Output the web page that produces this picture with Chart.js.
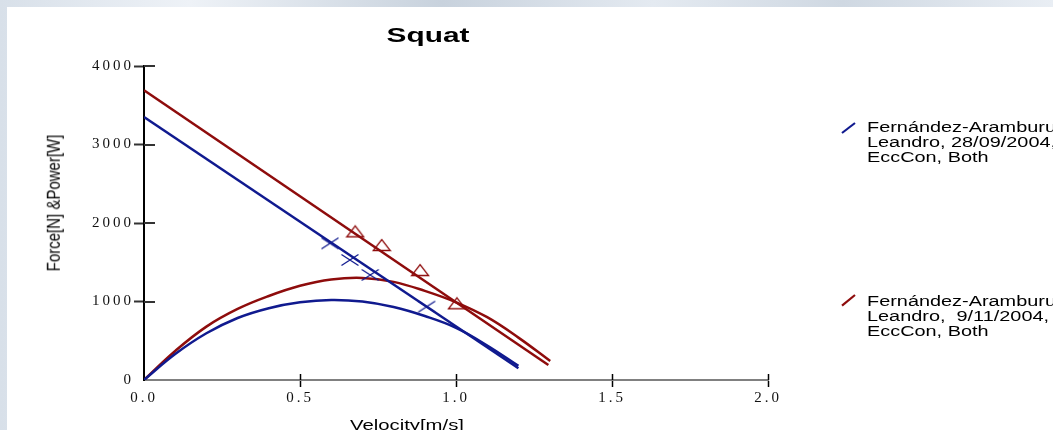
<!DOCTYPE html>
<html><head><meta charset="utf-8">
<script src="https://cdn.jsdelivr.net/npm/chart.js@4/dist/chart.umd.min.js"></script>
<style>
html,body{margin:0;padding:0;width:1053px;height:430px;overflow:hidden;}
body{position:relative;font-family:"Liberation Sans",Arial,sans-serif;
 background:linear-gradient(90deg,#d8e0e9 0%,#eef2f7 18%,#c8d2dd 42%,#e4eaf1 62%,#cfd8e2 80%,#e9eef4 100%);}
#panel{position:absolute;left:7px;top:7px;right:0;bottom:0;background:#fff;}
canvas{position:absolute;left:0;top:0;}
.t{position:absolute;white-space:pre;color:#000;}
#title{left:428px;top:24px;font-weight:bold;font-size:21px;line-height:21px;transform:translateX(-50%) scaleX(1.42);}
#xtitle{left:407px;top:417.5px;font-size:14px;line-height:14px;transform:translateX(-50%) scaleX(1.45);}
#ytitle{left:53px;top:203px;font-size:15px;line-height:15px;transform:translate(-50%,-50%) rotate(-90deg) scaleY(1.2);}
.leg{left:867px;font-size:14px;line-height:15px;transform-origin:0 0;transform:scaleX(1.42);}
svg{position:absolute;left:0;top:0;}
</style></head><body>
<div id="panel"></div>
<canvas id="c" width="1053" height="430"></canvas>
<div id="title" class="t"></div>
<div id="xtitle" class="t"></div>
<div id="ytitle" class="t"></div>
<div id="leg1" class="t leg" style="top:120.3px"></div>
<div id="leg2" class="t leg" style="top:294.3px"></div>
<svg width="1053" height="430">
 <line id="sw1" x1="842" y1="133" x2="855" y2="123" stroke-width="2.2"/>
 <line id="sw2" x1="842" y1="305.7" x2="855" y2="295" stroke-width="2.2"/>
</svg>
<script>
// ---- data ----
const chartTitle = "Squat";
const xAxisTitle = "Velocity[m/s]";
const yAxisTitle = "Force[N] &Power[W]";
const xTickLabels = ["0.0","0.5","1.0","1.5","2.0"];
const yTickLabels = ["0","1000","2000","3000","4000"];

const legend1Lines = ["Fernández-Aramburu,","Leandro, 28/09/2004,","EccCon, Both"];
const legend2Lines = ["Fernández-Aramburu,","Leandro,  9/11/2004,","EccCon, Both"];

// session 1 (blue)
const blueForceV = [0, 1.2];
const blueForce  = [3350, 150];
const bluePowerV = [0,0.1,0.2,0.3,0.4,0.5,0.6,0.7,0.8,0.9,1.0,1.1,1.2];
const bluePower  = [0,330,595,790,915,990,1020,1000,930,815,665,440,180];
const blueRepV   = [0.596,0.660,0.725,0.906];
const blueRepF   = [1741,1529,1338,934];

// session 2 (red)
const redForceV = [0, 1.296];
const redForce  = [3690, 190];
const redPowerV = [0,0.1,0.2,0.3,0.4,0.5,0.6,0.7,0.8,0.9,1.0,1.1,1.2,1.302];
const redPower  = [0,370,680,905,1070,1200,1280,1300,1250,1135,990,800,540,242];
const redRepV   = [0.677,0.762,0.885,1.003];
const redRepF   = [1894,1720,1401,977];

const BLUE = "#101a8f";
const RED  = "#8e0c0c";

// ---- text ----
document.getElementById('title').textContent = chartTitle;
document.getElementById('xtitle').textContent = xAxisTitle;
document.getElementById('ytitle').textContent = yAxisTitle;
document.getElementById('leg1').textContent = legend1Lines.join("\n");
document.getElementById('leg2').textContent = legend2Lines.join("\n");
document.getElementById('sw1').setAttribute('stroke', BLUE);
document.getElementById('sw2').setAttribute('stroke', RED);

// ---- marker images ----
function crossImg(color){
  const c=document.createElement('canvas');c.width=20;c.height=14;
  const g=c.getContext('2d');g.strokeStyle=color;g.lineWidth=1.3;
  g.beginPath();g.moveTo(1.5,1.5);g.lineTo(18.5,12.5);g.moveTo(1.5,12.5);g.lineTo(18.5,1.5);g.stroke();
  return c;
}
function triImg(color){
  const c=document.createElement('canvas');c.width=20;c.height=14;
  const g=c.getContext('2d');g.strokeStyle=color;g.lineWidth=1.3;
  g.beginPath();g.moveTo(1.5,12.5);g.lineTo(18.5,12.5);g.lineTo(10,1.5);g.closePath();g.stroke();
  return c;
}
const pts = (xs, ys) => xs.map((x,i)=>({x, y: ys[i]}));

const lineDs = (data,color) => ({data, borderColor:color, borderWidth:2.5, pointRadius:0, tension:0, fill:false});
const curveDs = (data,color) => ({data, borderColor:color, borderWidth:2.5, pointRadius:0, tension:0.4, fill:false});
const markDs = (data,img) => ({data, showLine:false, pointStyle:img, pointRadius:9, borderWidth:0});

const axisDecor = {
  id:'axisDecor',
  beforeDraw(chart){ chart.ctx.letterSpacing='3px'; },
  beforeDatasetsDraw(chart){
    const ctx=chart.ctx; ctx.letterSpacing='0px';
    const {left,bottom}=chart.chartArea;
    const xs=chart.scales.x, ys=chart.scales.y;
    ctx.save();
    ctx.strokeStyle='#333'; ctx.lineWidth=2;
    ys.ticks.forEach(t=>{ if(t.value===0) return; const y=Math.round(ys.getPixelForValue(t.value));
      ctx.beginPath(); ctx.moveTo(left,y); ctx.lineTo(left+11,y); ctx.stroke(); });
    ctx.strokeStyle='#000'; ctx.lineWidth=1.5;
    xs.ticks.forEach(t=>{ if(t.value===0) return; const x=Math.round(xs.getPixelForValue(t.value))+0.5;
      ctx.beginPath(); ctx.moveTo(x,bottom); ctx.lineTo(x,bottom-6); ctx.stroke(); });
    ctx.restore();
  },
  afterDraw(chart){ chart.ctx.letterSpacing='0px'; }
};

new Chart(document.getElementById('c'), {
  type:'line',
  data:{datasets:[
    lineDs(pts(blueForceV,blueForce),BLUE),
    curveDs(pts(bluePowerV,bluePower),BLUE),
    markDs(pts(blueRepV,blueRepF),crossImg(BLUE)),
    lineDs(pts(redForceV,redForce),RED),
    curveDs(pts(redPowerV,redPower),RED),
    markDs(pts(redRepV,redRepF),triImg(RED))
  ]},
  options:{
    responsive:false, devicePixelRatio:1, animation:false,
    layout:{padding:{left:0,top:66,right:285,bottom:0}},
    plugins:{legend:{display:false},tooltip:{enabled:false},title:{display:false}},
    scales:{
      x:{type:'linear',min:0,max:2,
        afterFit:s=>{s.height=50;},
        border:{display:true,color:'#808080',width:2},
        grid:{drawOnChartArea:false,drawTicks:true,tickLength:7,
          tickColor:c=>c.tick&&c.tick.value===0?'rgba(0,0,0,0)':'#000',tickWidth:1.5},
        ticks:{stepSize:0.5,padding:2,color:'#111',maxRotation:0,
          font:{family:'"Liberation Serif","Times New Roman",serif',size:15},
          callback:(v)=>{const i=Math.round(v/0.5);return xTickLabels[i]!==undefined?xTickLabels[i]:'';}}
      },
      y:{type:'linear',min:0,max:4000,
        afterFit:s=>{s.width=144;},
        border:{display:true,color:'#000',width:2},
        grid:{drawOnChartArea:false,drawTicks:true,tickLength:10,
          tickColor:c=>c.tick&&c.tick.value===0?'rgba(0,0,0,0)':'#333',tickWidth:2},
        ticks:{stepSize:1000,padding:0,color:'#111',
          font:{family:'"Liberation Serif","Times New Roman",serif',size:15},
          callback:(v)=>{const i=Math.round(v/1000);return yTickLabels[i]!==undefined?yTickLabels[i]:'';}}
      }
    }
  },
  plugins:[axisDecor]
});
</script>
</body></html>
